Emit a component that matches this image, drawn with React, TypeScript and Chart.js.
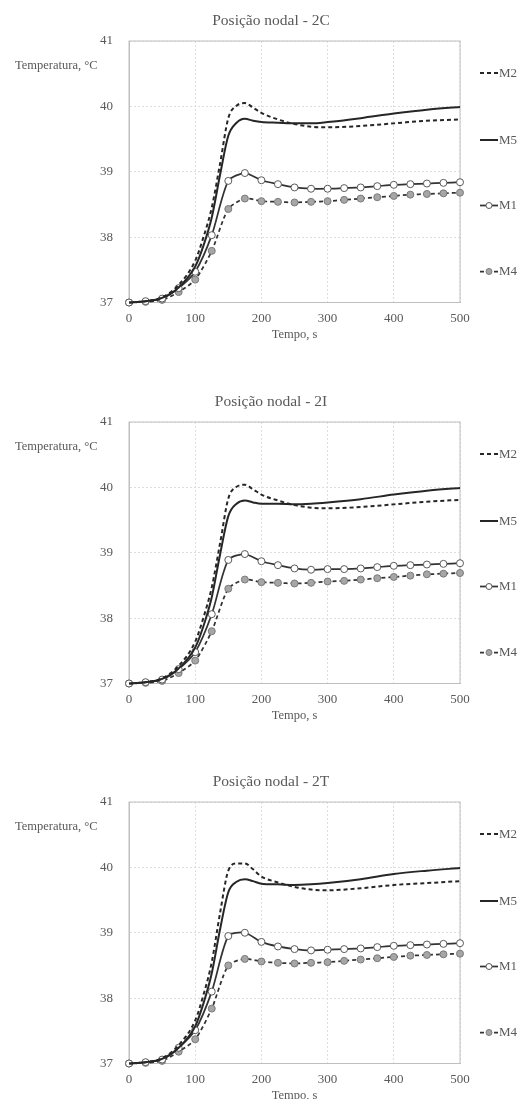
import React, { useEffect, useRef } from "react";
import { Chart, registerables } from "chart.js";

Chart.register(...registerables);

// ---------- text ----------
const chartTitles = ["Posição nodal - 2C", "Posição nodal - 2I", "Posição nodal - 2T"];
const seriesNames = ["M2", "M5", "M1", "M4"];
const yAxisLabel = "Temperatura, °C";
const xAxisLabel = "Tempo, s";
const yTickValues = [37, 38, 39, 40, 41];
const xTickValues = [0, 100, 200, 300, 400, 500];

// ---------- time bases ----------
const smoothTimes = [0, 25, 50, 75, 100, 112.5, 125, 137.5, 150, 162.5, 175, 187.5, 200, 225, 250, 275, 300, 350, 400, 450, 500];
const markerTimes = [0, 25, 50, 75, 100, 125, 150, 175, 200, 225, 250, 275, 300, 325, 350, 375, 400, 425, 450, 475, 500];

// ---------- 2C ----------
const m2_2C = [37.0, 37.02, 37.08, 37.27, 37.64, 38.0, 38.45, 39.12, 39.82, 40.01, 40.05, 39.98, 39.9, 39.8, 39.73, 39.69, 39.68, 39.7, 39.74, 39.78, 39.8];
const m5_2C = [37.0, 37.02, 37.07, 37.23, 37.55, 37.87, 38.3, 38.95, 39.55, 39.75, 39.81, 39.78, 39.76, 39.75, 39.74, 39.74, 39.76, 39.82, 39.89, 39.95, 39.99];
const m1_2C = [37.0, 37.02, 37.06, 37.22, 37.47, 38.03, 38.86, 38.98, 38.87, 38.81, 38.76, 38.74, 38.74, 38.75, 38.76, 38.78, 38.8, 38.81, 38.82, 38.83, 38.84];
const m4_2C = [37.0, 37.01, 37.04, 37.16, 37.35, 37.79, 38.43, 38.59, 38.55, 38.54, 38.53, 38.54, 38.55, 38.57, 38.59, 38.61, 38.63, 38.65, 38.66, 38.67, 38.68];

// ---------- 2I ----------
const m2_2I = [37.0, 37.02, 37.08, 37.27, 37.64, 38.01, 38.47, 39.14, 39.83, 40.01, 40.04, 39.97, 39.89, 39.8, 39.73, 39.69, 39.68, 39.7, 39.74, 39.78, 39.81];
const m5_2I = [37.0, 37.02, 37.07, 37.23, 37.55, 37.88, 38.32, 38.97, 39.56, 39.75, 39.8, 39.77, 39.75, 39.75, 39.74, 39.75, 39.77, 39.82, 39.89, 39.95, 39.99];
const m1_2I = [37.0, 37.02, 37.06, 37.22, 37.48, 38.06, 38.89, 38.98, 38.87, 38.81, 38.76, 38.74, 38.75, 38.75, 38.76, 38.78, 38.8, 38.81, 38.82, 38.83, 38.84];
const m4_2I = [37.0, 37.01, 37.04, 37.16, 37.35, 37.8, 38.45, 38.59, 38.55, 38.54, 38.53, 38.54, 38.56, 38.57, 38.59, 38.61, 38.63, 38.65, 38.67, 38.68, 38.69];

// ---------- 2T ----------
const m2_2T = [37.0, 37.02, 37.08, 37.28, 37.66, 38.05, 38.55, 39.3, 39.95, 40.06, 40.06, 39.97, 39.86, 39.77, 39.7, 39.66, 39.65, 39.68, 39.73, 39.76, 39.79];
const m5_2T = [37.0, 37.02, 37.07, 37.24, 37.57, 37.92, 38.38, 39.05, 39.62, 39.78, 39.82, 39.79, 39.75, 39.74, 39.73, 39.74, 39.76, 39.82, 39.9, 39.95, 39.99];
const m1_2T = [37.0, 37.02, 37.06, 37.24, 37.51, 38.1, 38.95, 39.0, 38.86, 38.79, 38.75, 38.73, 38.74, 38.75, 38.76, 38.78, 38.8, 38.81, 38.82, 38.83, 38.84];
const m4_2T = [37.0, 37.01, 37.04, 37.18, 37.37, 37.84, 38.5, 38.6, 38.56, 38.54, 38.53, 38.54, 38.55, 38.57, 38.59, 38.61, 38.63, 38.65, 38.66, 38.67, 38.68];

const panels = [
  { title: chartTitles[0], m2: m2_2C, m5: m5_2C, m1: m1_2C, m4: m4_2C, top: 0 },
  { title: chartTitles[1], m2: m2_2I, m5: m5_2I, m1: m1_2I, m4: m4_2I, top: 381 },
  { title: chartTitles[2], m2: m2_2T, m5: m5_2T, m1: m1_2T, m4: m4_2T, top: 761 },
];

const FONT = '"Liberation Serif", "Times New Roman", serif';
const TEXT = "#595959";
const LINE = "#262626";
const CANVAS_W = 521;
const CANVAS_H = 380;

const pts = (times: number[], vals: number[]) => times.map((t, i) => ({ x: t, y: vals[i] }));

const overlayPlugin = {
  id: "overlay",
  beforeDatasetsDraw(chart: any) {
    const { ctx, chartArea } = chart;
    ctx.save();
    ctx.strokeStyle = "#bfbfbf";
    ctx.lineWidth = 1;
    ctx.setLineDash([]);
    ctx.strokeRect(chartArea.left, chartArea.top, chartArea.right - chartArea.left, chartArea.bottom - chartArea.top);
    ctx.restore();
  },
  afterDraw(chart: any, _args: any, opts: any) {
    const { ctx, chartArea } = chart;
    const top = chartArea.top;
    ctx.save();
    ctx.fillStyle = TEXT;
    ctx.textBaseline = "middle";
    // title
    ctx.font = `15.5px ${FONT}`;
    ctx.textAlign = "center";
    ctx.fillText(opts.title, 271, top - 20);
    // y label (horizontal)
    ctx.font = `12.5px ${FONT}`;
    ctx.textAlign = "left";
    ctx.fillText(yAxisLabel, 15, top + 24.5);
    // legend
    const ys = [32, 99, 164.5, 230.5];
    const ds = chart.data.datasets;
    ctx.font = `13px ${FONT}`;
    for (let i = 0; i < seriesNames.length; i++) {
      const y = top + ys[i];
      const d = ds[i];
      ctx.save();
      ctx.strokeStyle = d.borderColor;
      ctx.lineWidth = d.borderWidth;
      ctx.setLineDash(d.borderDash || []);
      ctx.beginPath();
      ctx.moveTo(480, y);
      ctx.lineTo(498, y);
      ctx.stroke();
      if (d.pointRadius > 0) {
        ctx.setLineDash([]);
        ctx.beginPath();
        ctx.arc(489, y, 3, 0, Math.PI * 2);
        ctx.fillStyle = d.pointBackgroundColor;
        ctx.fill();
        ctx.lineWidth = 1;
        ctx.strokeStyle = d.pointBorderColor;
        ctx.stroke();
      }
      ctx.restore();
      ctx.fillStyle = TEXT;
      ctx.textAlign = "left";
      ctx.fillText(seriesNames[i], 499, y + 0.5);
    }
    ctx.restore();
  },
};

function TempChart({ panel }: { panel: any }) {
  const ref = useRef<HTMLCanvasElement | null>(null);
  useEffect(() => {
    if (!ref.current) return;
    const chart = new Chart(ref.current, {
      type: "line",
      data: {
        datasets: [
          {
            label: seriesNames[0],
            data: pts(smoothTimes, panel.m2),
            borderColor: LINE,
            borderWidth: 2,
            borderDash: [4, 3],
            pointRadius: 0,
            cubicInterpolationMode: "monotone",
            fill: false,
            clip: false,
          },
          {
            label: seriesNames[1],
            data: pts(smoothTimes, panel.m5),
            borderColor: LINE,
            borderWidth: 2,
            pointRadius: 0,
            cubicInterpolationMode: "monotone",
            fill: false,
            clip: false,
          },
          {
            label: seriesNames[2],
            data: pts(markerTimes, panel.m1),
            borderColor: "#333333",
            borderWidth: 1.75,
            pointRadius: 3.5,
            pointBackgroundColor: "#ffffff",
            pointBorderColor: "#595959",
            pointBorderWidth: 1,
            tension: 0.25,
            fill: false,
            clip: false,
          },
          {
            label: seriesNames[3],
            data: pts(markerTimes, panel.m4),
            borderColor: "#333333",
            borderWidth: 1.75,
            borderDash: [4, 3],
            pointRadius: 3.5,
            pointBackgroundColor: "#a6a6a6",
            pointBorderColor: "#7a7a7a",
            pointBorderWidth: 1,
            tension: 0.25,
            fill: false,
            clip: false,
          },
        ] as any,
      },
      options: {
        animation: false,
        responsive: false,
        devicePixelRatio: 1,
        layout: { padding: { top: 41, left: 0, right: 61, bottom: 0 } },
        plugins: {
          legend: { display: false },
          title: { display: false },
          tooltip: { enabled: false },
          overlay: { title: panel.title },
        } as any,
        scales: {
          x: {
            type: "linear",
            min: 0,
            max: 500,
            afterBuildTicks: (scale: any) => {
              scale.ticks = xTickValues.map((v) => ({ value: v }));
            },
            afterFit: (scale: any) => {
              scale.height = CANVAS_H - 41 - 261.5;
            },
            grid: { color: "#dedede", lineWidth: 1, drawTicks: false },
            border: { display: true, color: "#bfbfbf", dash: [2, 2] },
            ticks: { color: TEXT, font: { family: FONT, size: 13 }, padding: 8, maxRotation: 0 },
            title: {
              display: true,
              text: xAxisLabel,
              color: TEXT,
              font: { family: FONT, size: 12.5 },
              padding: { top: 0, bottom: 37.5 },
            },
          },
          y: {
            type: "linear",
            min: 37,
            max: 41,
            afterBuildTicks: (scale: any) => {
              scale.ticks = yTickValues.map((v) => ({ value: v }));
            },
            afterFit: (scale: any) => {
              scale.width = 129;
            },
            grid: { color: "#dedede", lineWidth: 1, drawTicks: false },
            border: { display: true, color: "#bfbfbf", dash: [2, 2] },
            ticks: { color: TEXT, font: { family: FONT, size: 13 }, padding: 16 },
          },
        },
      },
      plugins: [overlayPlugin],
    } as any);
    return () => chart.destroy();
  }, [panel]);
  return (
    <div style={{ position: "absolute", left: 0, top: panel.top, width: CANVAS_W, height: CANVAS_H }}>
      <canvas ref={ref} width={CANVAS_W} height={CANVAS_H} style={{ width: CANVAS_W, height: CANVAS_H, display: "block" }} />
    </div>
  );
}

export default function App() {
  return (
    <div
      style={{
        position: "absolute",
        left: 0,
        top: 0,
        width: 521,
        height: 1099,
        overflow: "hidden",
        background: "#ffffff",
      }}
    >
      {panels.map((p, i) => (
        <TempChart key={i} panel={p} />
      ))}
    </div>
  );
}
